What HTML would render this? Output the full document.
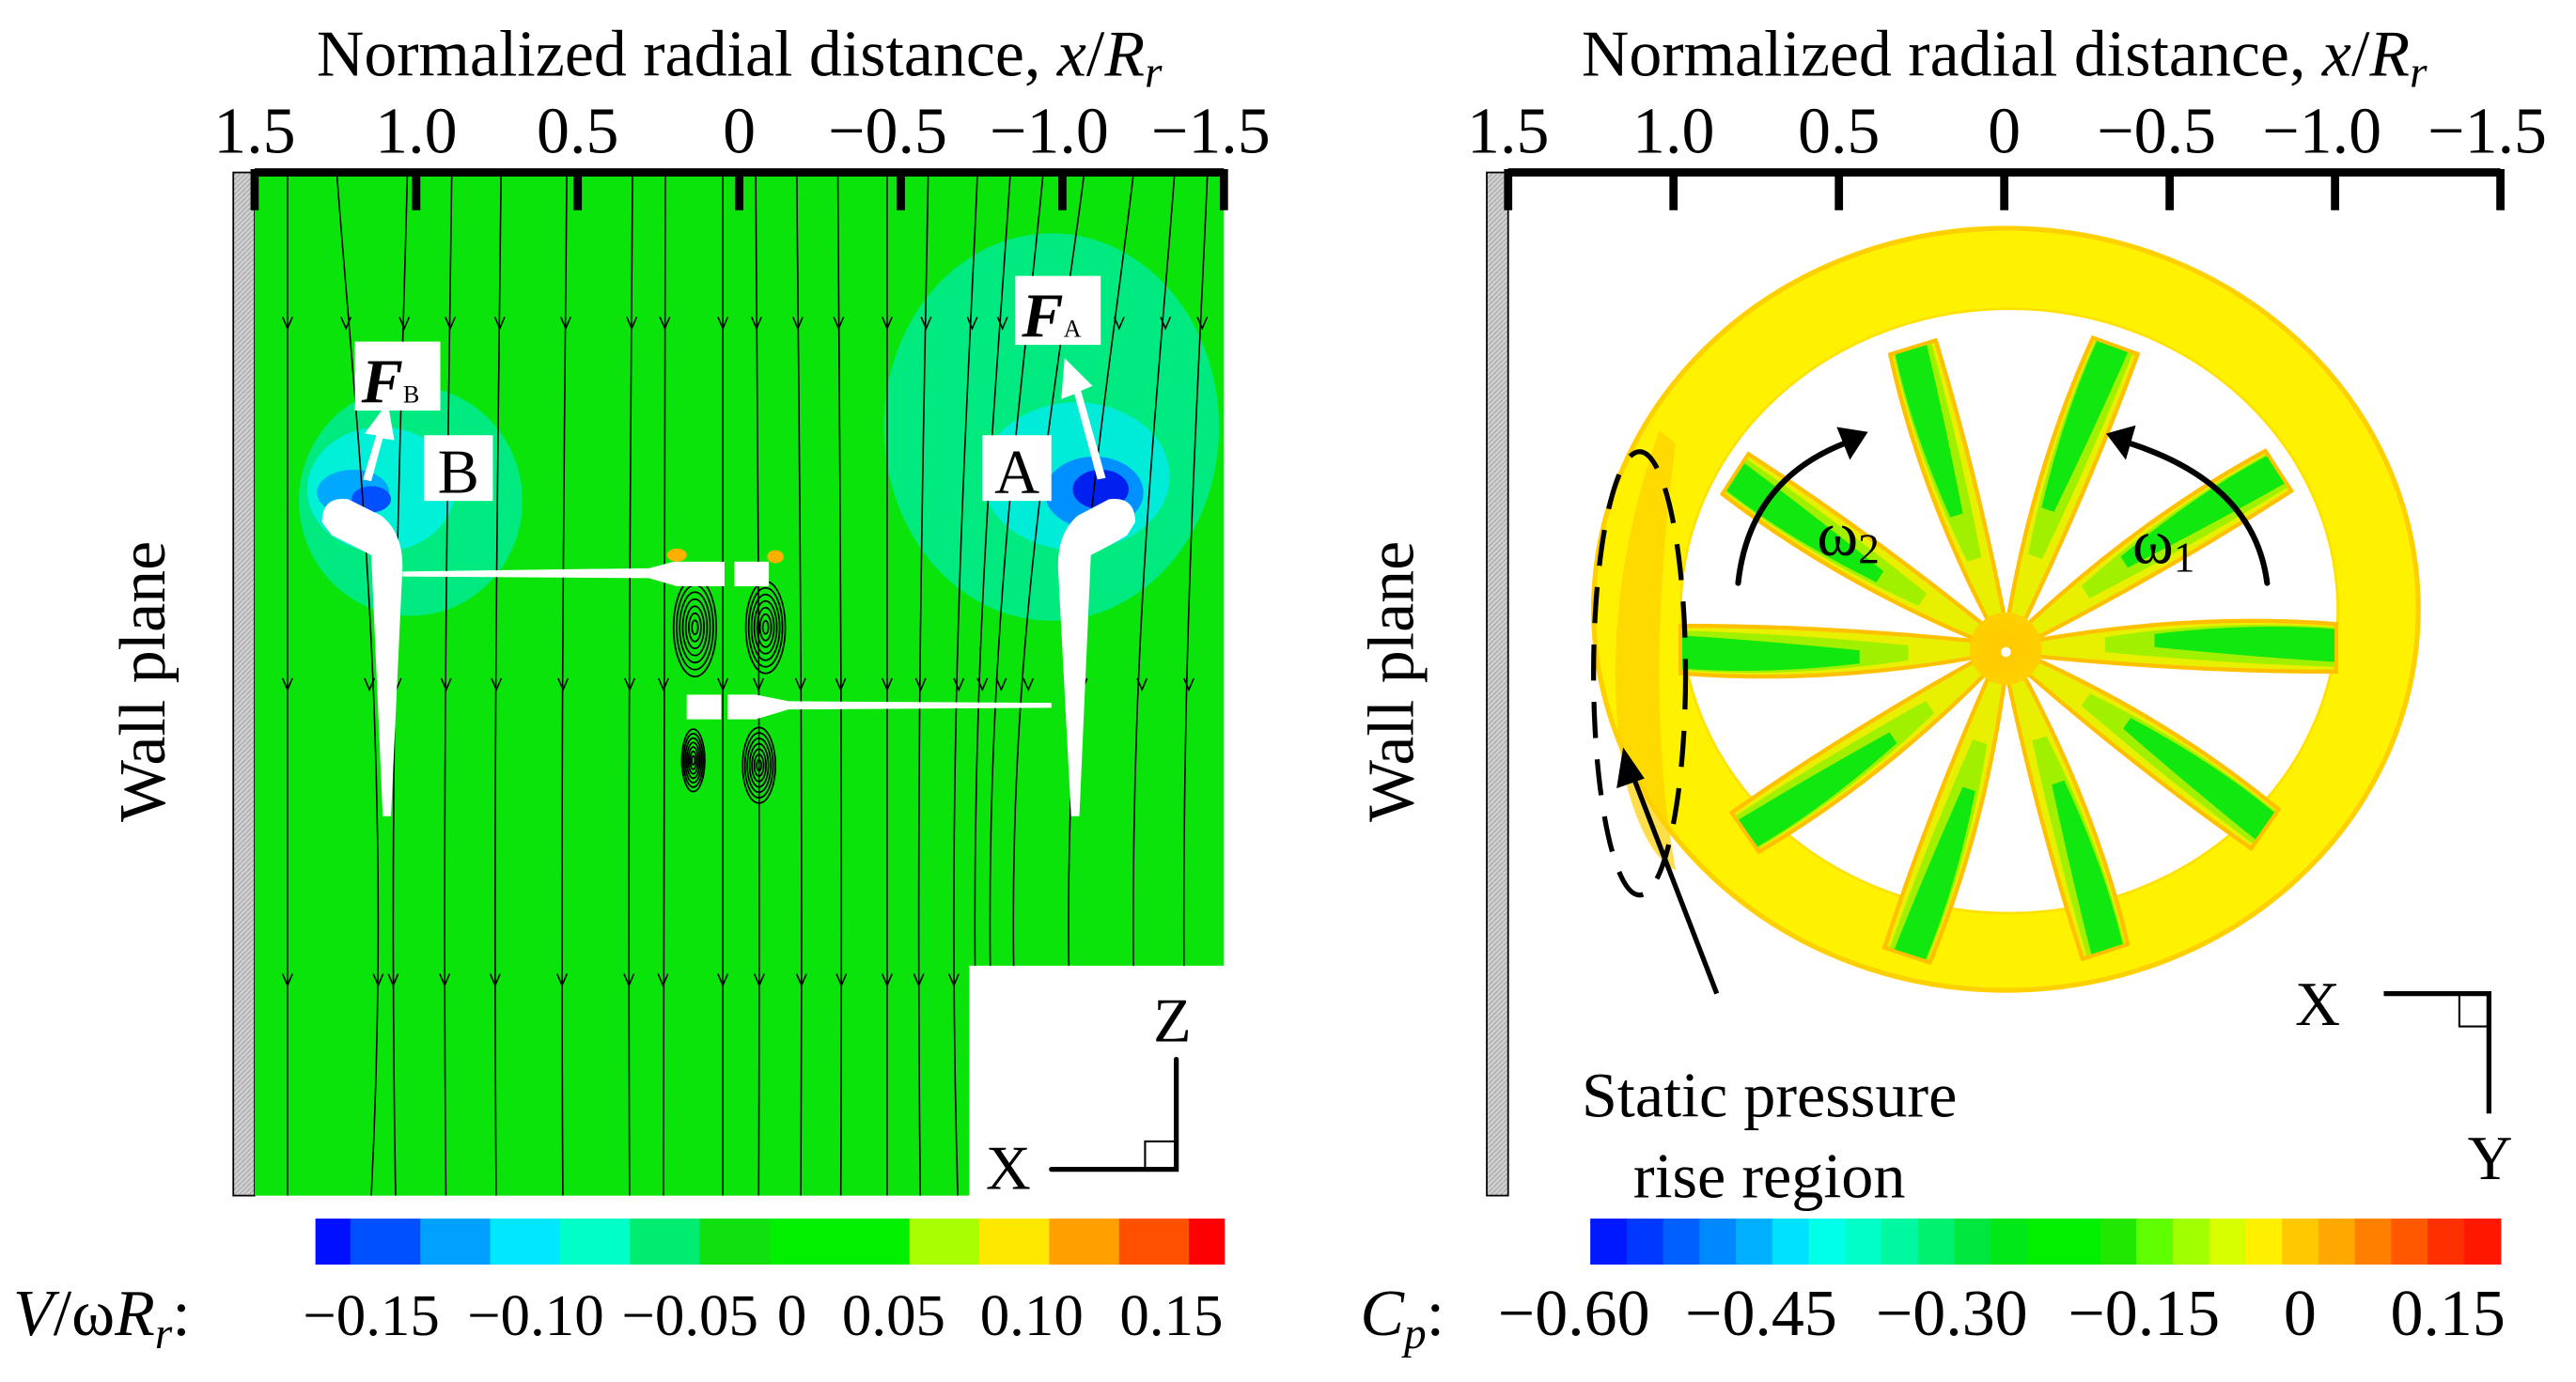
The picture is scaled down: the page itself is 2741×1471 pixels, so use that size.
<!DOCTYPE html>
<html><head><meta charset="utf-8"><style>
html,body{margin:0;padding:0;background:#fff}
svg{display:block}
text{font-family:"Liberation Serif",serif;fill:#000}
</style></head><body>
<svg id="fig" width="2741" height="1471" viewBox="0 0 1568 841.5" preserveAspectRatio="none" xmlns="http://www.w3.org/2000/svg">
<defs>
<pattern id="hatch" width="3" height="3" patternUnits="userSpaceOnUse"><rect width="3" height="3" fill="#d0d0d0"/><path d="M0,3 L3,0" stroke="#a0a0a0" stroke-width="0.6"/></pattern>
<radialGradient id="hubg"><stop offset="0" stop-color="#ffc800"/><stop offset="1" stop-color="#ffd000"/></radialGradient>
<clipPath id="fieldclip"><path d="M155,105 H745 V588 H590 V728 H155 Z"/></clipPath>
</defs>

<g id="left">
  <text x="450" y="46" font-size="40" text-anchor="middle">Normalized radial distance, <tspan font-style="italic">x</tspan>/<tspan font-style="italic">R</tspan><tspan font-style="italic" font-size="27" dy="7">r</tspan></text>
  <rect x="142" y="105" width="13" height="623" fill="url(#hatch)" stroke="#000" stroke-width="1"/>
  <path d="M155,105 H745 V588 H590 V728 H155 Z" fill="#0be40b"/>
  <g clip-path="url(#fieldclip)">
  <ellipse cx="250" cy="305" rx="68" ry="70" fill="#00ea80"/>
  <ellipse cx="232" cy="298" rx="45" ry="38" fill="#00f0d8"/>
  <ellipse cx="215" cy="300" rx="22" ry="14" fill="#00a8ff"/>
  <ellipse cx="226" cy="304" rx="12" ry="8" fill="#0050ff"/>
  <ellipse cx="640" cy="260" rx="102" ry="118" fill="#00ea80"/>
  <ellipse cx="655" cy="290" rx="57" ry="45" fill="#00ecd8"/>
  <ellipse cx="666" cy="300" rx="30" ry="22" fill="#0090ff"/>
  <ellipse cx="670" cy="298" rx="17" ry="12" fill="#0020f0"/>
  <g id="streams"></g>
  <g id="vortices"></g>
  </g>
  <ellipse cx="412" cy="338" rx="6" ry="4" fill="#ffb000"/>
  <ellipse cx="472" cy="339" rx="5" ry="4" fill="#ffb000"/>
  <path d="M196,318 Q196,302 212,304 L232,314 Q245,324 245,345 L238,497 L233,497 L226,338 Q214,332 202,326 Z" fill="#fff"/>
  <path d="M691,318 Q691,302 675,304 L656,314 Q644,324 644,345 L652,497 L657,497 L664,338 Q676,332 686,326 Z" fill="#fff"/>
  <path d="M245,348 L395,346 L410,342 L441,342 L441,357 L412,357 L395,352 L245,351 Z" fill="#fff"/>
  <rect x="447" y="342" width="21" height="15" fill="#fff"/>
  <rect x="418" y="423" width="21" height="15" fill="#fff"/>
  <path d="M443,423 L460,423 L480,427 L640,428 L640,431 L480,432 L460,438 L443,438 Z" fill="#fff"/>
  <path d="M221,292 L229,265 L222,264 L236,245 L240,268 L233,267 L226,293 Z" fill="#fff"/>
  <path d="M668,292 L654,240 L646,243 L648,218 L665,235 L658,238 L673,291 Z" fill="#fff"/>
  <rect x="216" y="208" width="52" height="42" fill="#fff"/>
  <text x="220" y="245" font-size="38" font-weight="bold" font-style="italic">F<tspan font-size="15" font-weight="normal" font-style="normal">B</tspan></text>
  <rect x="618" y="168" width="52" height="42" fill="#fff"/>
  <text x="622" y="205" font-size="38" font-weight="bold" font-style="italic">F<tspan font-size="15" font-weight="normal" font-style="normal">A</tspan></text>
  <rect x="258" y="265" width="42" height="40" fill="#fff"/>
  <text x="279" y="300" font-size="38" text-anchor="middle">B</text>
  <rect x="598" y="265" width="42" height="40" fill="#fff"/>
  <text x="619" y="300" font-size="38" text-anchor="middle">A</text>
  <text transform="translate(100,415) rotate(-90)" font-size="40" text-anchor="middle">Wall plane</text>
  <text x="702" y="634" font-size="38">Z</text>
  <text x="600" y="724" font-size="38">X</text>
  <path d="M640,712 H716 V645" fill="none" stroke="#000" stroke-width="3" stroke-linecap="round"/>
  <rect x="697" y="695" width="19" height="17" fill="none" stroke="#000" stroke-width="1.2"/>
  <g id="laxis"></g>
  <g id="lcbar"></g>
  <text x="8" y="813" font-size="40"><tspan font-style="italic">V</tspan>/ω<tspan font-style="italic">R</tspan><tspan font-style="italic" font-size="27" dy="8">r</tspan><tspan dy="-8">:</tspan></text>
</g>

<g id="right">
  <text x="1220" y="46" font-size="40" text-anchor="middle">Normalized radial distance, <tspan font-style="italic">x</tspan>/<tspan font-style="italic">R</tspan><tspan font-style="italic" font-size="27" dy="7">r</tspan></text>
  <rect x="905" y="105" width="13" height="623" fill="url(#hatch)" stroke="#000" stroke-width="1"/>
  <ellipse cx="1221" cy="371" rx="251" ry="232" fill="#fff200" stroke="#ffd000" stroke-width="3"/>
  <path d="M1010,262 Q972,370 988,470 Q1000,520 1020,530 Q1000,420 1020,270 Z" fill="#ffd000" opacity="0.7"/>
  <ellipse cx="1223" cy="372" rx="200" ry="184" fill="#fff" stroke="#ffe000" stroke-width="1.5"/>
  <g id="blades"></g>
  <circle cx="1221" cy="395" r="22" fill="url(#hubg)"/>
  <circle cx="1221" cy="397" r="3" fill="#fff"/>
  <path d="M1058,355 Q1065,290 1128,268" fill="none" stroke="#000" stroke-width="3.5" stroke-linecap="round"/>
  <path d="M1137,263 L1118,260 L1126,280 Z" fill="#000"/>
  <path d="M1380,355 Q1372,292 1290,268" fill="none" stroke="#000" stroke-width="3.5" stroke-linecap="round"/>
  <path d="M1282,264 L1300,259 L1294,280 Z" fill="#000"/>
  <text x="1106" y="338" font-size="38">ω<tspan font-size="26" dy="5">2</tspan></text>
  <text x="1298" y="343" font-size="38">ω<tspan font-size="26" dy="5">1</tspan></text>
  <ellipse cx="998" cy="410" rx="28" ry="135" fill="none" stroke="#000" stroke-width="3" stroke-dasharray="22,13"/>
  <line x1="1045" y1="605" x2="993" y2="470" stroke="#000" stroke-width="3"/>
  <path d="M988,455 L984,480 L1001,474 Z" fill="#000"/>
  <text x="1077" y="680" font-size="39" text-anchor="middle">Static pressure</text>
  <text x="1077" y="729" font-size="39" text-anchor="middle">rise region</text>
  <text transform="translate(860,415) rotate(-90)" font-size="40" text-anchor="middle">Wall plane</text>
  <text x="1397" y="624" font-size="38">X</text>
  <text x="1502" y="718" font-size="38">Y</text>
  <path d="M1451,605 H1515 V678" fill="none" stroke="#000" stroke-width="3"/>
  <rect x="1497" y="605" width="18" height="20" fill="none" stroke="#000" stroke-width="1.2"/>
  <g id="raxis"></g>
  <g id="rcbar"></g>
  <text x="828" y="813" font-size="40"><tspan font-style="italic">C</tspan><tspan font-style="italic" font-size="27" dy="8">p</tspan><tspan dy="-8">:</tspan></text>
</g>
</svg>
<script>
const NS="http://www.w3.org/2000/svg";
const tickValues=[1.5,1.0,0.5,0,-0.5,-1.0,-1.5];
const tickLabels=["1.5","1.0","0.5","0","\u22120.5","\u22121.0","\u22121.5"];
const lcbColors=["#0010ff","#0050ff","#00a0ff","#00e8ff","#00ffc8","#00ec70","#10e010","#00f000","#00f000","#a8ff00","#ffe800","#ffa000","#ff5000","#ff0000"];
const lcbWeights=[1,2,2,2,2,2,2,2,2,2,2,2,2,1];
const lcbLabels=["\u22120.15","\u22120.10","\u22120.05","0","0.05","0.10","0.15"];
const lcbLabelPos=[226,326,420,482,544,628,713];
const rcbColors=["#0018ff","#0038ff","#0060ff","#0088ff","#00b0ff","#00e0ff","#00ffe8","#00ffc8","#00f8a0","#00f070","#00e840","#00e818","#00f000","#00f000","#20e800","#60ff00","#a0ff00","#d8ff00","#fff000","#ffc800","#ffa800","#ff8000","#ff5800","#ff3000","#ff1800"];
const rcbLabels=["\u22120.60","\u22120.45","\u22120.30","\u22120.15","0","0.15"];
const rcbLabelPos=[958,1072,1188,1305,1400,1490];
const streamTopX=[175,205,248,275,305,345,385,405,440,460,485,510,540,565,595,615,635,660,690,715,735];
const streamBend=[0,35,-12,-6,-5,-4,-3,-2,0,3,4,3,0,-8,-20,-30,-45,-60,-55,-35,-20];
const bladeAngles=[-107,-70,-147,-33,180,0,145,35,108,72];
const bladeLengths=[192,196,196,198,198,201,194,192,196,194];

function el(tag,attrs,parent){const e=document.createElementNS(NS,tag);for(const k in attrs)e.setAttribute(k,attrs[k]);parent.appendChild(e);return e;}

function axis(gid,x0,x1){
  const g=document.getElementById(gid);
  const sx=v=>x0+(1.5-v)/3*(x1-x0);
  const ln=el("line",{x1:x0,y1:105,x2:x1,y2:105,stroke:"#000","stroke-width":5},g);
  
  
  tickValues.forEach((v,i)=>{
    const t=el("line",{x1:sx(v),y1:103,x2:sx(v),y2:128,stroke:"#000","stroke-width":5},g);
    
    
    const tx=el("text",{x:sx(v)-(v<0?8:0),y:93,"font-size":40,"text-anchor":"middle"},g);
    tx.textContent=tickLabels[i];
    
    
  });
}
axis("laxis",155,745);axis("raxis",918,1522);

function cbar(gid,x0,x1,colors,weights,labels,pos,fs){
  const g=document.getElementById(gid);
  const tot=weights.reduce((a,b)=>a+b,0);let x=x0;
  colors.forEach((c,i)=>{const w=weights[i]/tot*(x1-x0);
    const r=el("rect",{x:x,y:742,width:w+0.5,height:28,fill:c},g);
    
    
    x+=w;});
  labels.forEach((l,i)=>{const t=el("text",{x:pos[i],y:813,"font-size":fs,"text-anchor":"middle"},g);
    t.textContent=l;
    
    });
}
cbar("lcbar",192,745,lcbColors,lcbWeights,lcbLabels,lcbLabelPos,36);
cbar("rcbar",968,1522,rcbColors,rcbColors.map(()=>1),rcbLabels,rcbLabelPos,40);

const sg=document.getElementById("streams");
streamTopX.forEach((x,i)=>{
  const b=streamBend[i];
  const d=`M${x},105 C${x+b*0.3},250 ${x+b},450 ${x+b*0.6},728`;
  const p=el("path",{d:d,fill:"none",stroke:"#000","stroke-width":0.9},sg);
  
  
  [200,420,600].forEach(y=>{const t=(y-105)/623;const ax=x+b*(0.3*3*t*(1-t)*(1-t)+3*t*t*(1-t)+0.6*t*t*t);
    const a=el("path",{d:`M${ax-3},${y-7} L${ax},${y} L${ax+3},${y-7}`,fill:"none",stroke:"#000","stroke-width":0.9},sg);
    
    });
});
const vg=document.getElementById("vortices");
[[423,382,13,30],[466,382,12,28],[422,463,7,19],[462,466,10,23]].forEach(v=>{
  for(let k=1;k<=7;k++){const e=el("ellipse",{cx:v[0],cy:v[1],rx:v[2]*k/7,ry:v[3]*k/7,fill:"none",stroke:"#000","stroke-width":1},vg);
    
    }
});
const bg=document.getElementById("blades");
bladeAngles.forEach((a,i)=>{
  const L=bladeLengths[i];
  const g=el("g",{transform:`translate(1221,395) rotate(${a})`},bg);
  
  
  el("path",{d:`M12,-4 Q${L*0.55},-22 ${L},-15 L${L},14 Q${L*0.55},14 12,4 Z`,fill:"#e8f000",stroke:"#ffc000","stroke-width":2.5},g);
  el("path",{d:`M${L*0.3},-7 Q${L*0.65},-18 ${L-1},-13 L${L-1},11 Q${L*0.65},9 ${L*0.3},2 Z`,fill:"#a0f000"},g);
  el("path",{d:`M${L*0.45},-9 Q${L*0.75},-16 ${L-1},-12 L${L-1},8 Q${L*0.75},5 ${L*0.45},-1 Z`,fill:"#10e810"},g);
});
</script>
</body></html>
